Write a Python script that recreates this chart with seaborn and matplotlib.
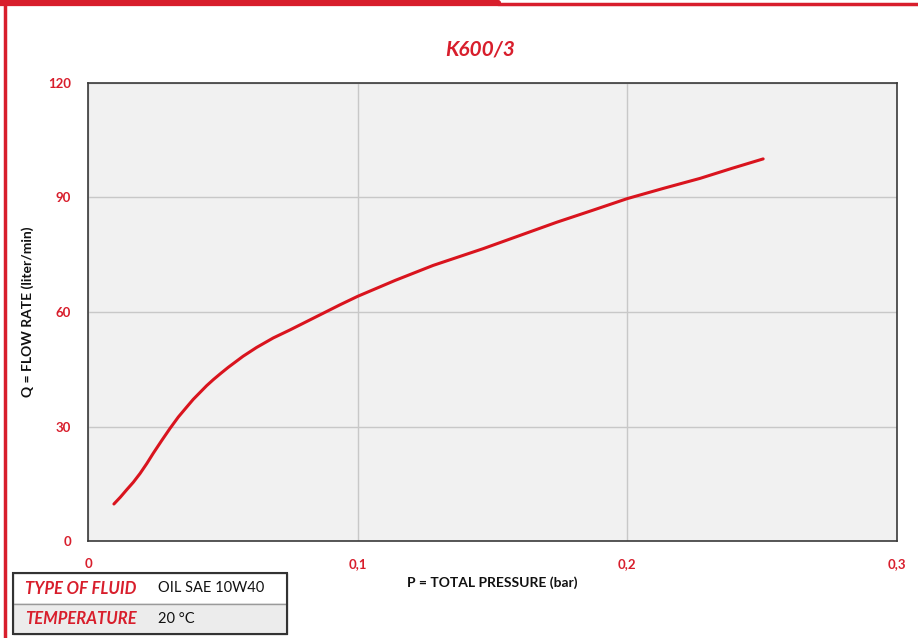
import matplotlib
matplotlib.use("Agg")
import matplotlib.pyplot as plt
import seaborn as sns
import pandas as pd
from matplotlib.patches import Rectangle
from matplotlib.lines import Line2D
from matplotlib.ticker import MultipleLocator, FixedLocator

# values
pressure = [0.0096, 0.0120, 0.0143, 0.0168, 0.0193, 0.0218, 0.0242, 0.0273,
            0.0304, 0.0335, 0.0366, 0.0390, 0.0415, 0.0440, 0.0465, 0.0492,
            0.0520, 0.0575, 0.0625, 0.0687, 0.0749, 0.0811, 0.0873, 0.0935,
            0.1, 0.1140, 0.128, 0.1466, 0.160, 0.1738, 0.187, 0.2, 0.2135,
            0.227, 0.2387, 0.2504]
flow = [9.7, 11.5, 13.4, 15.4, 17.7, 20.3, 23.0, 26.3,
        29.5, 32.5, 35.1, 37.1, 38.9, 40.7, 42.3, 43.9,
        45.5, 48.4, 50.7, 53.2, 55.3, 57.5, 59.7, 61.9,
        64.1, 68.3, 72.2, 76.6, 80.0, 83.5, 86.6, 89.7, 92.4,
        95.0, 97.6, 100.1]
x_ticks = [0, 0.1, 0.2, 0.3]
x_tick_labels = ["0", "0,1", "0,2", "0,3"]
y_ticks = [0, 30, 60, 90, 120]
table_rows = [("TYPE OF FLUID", "OIL SAE 10W40"), ("TEMPERATURE", "20 °C")]

RED = "#d81e2c"
LINE_RED = "#d9141e"

sns.set_style("whitegrid", {"axes.facecolor": "#f1f1f1", "grid.color": "#c8c8c8",
                            "axes.edgecolor": "#333333"})
plt.rcParams["font.family"] = ["Lato", "DejaVu Sans"]

df = pd.DataFrame({"P": pressure, "Q": flow})

fig = plt.figure(figsize=(9.18, 6.38), dpi=100)
ax = fig.add_axes([0.0959, 0.152, 0.977 - 0.0959, 0.870 - 0.152])

sns.lineplot(data=df, x="P", y="Q", ax=ax, color=LINE_RED, linewidth=2.2)
ax.lines[0].set_solid_joinstyle("round")

ax.set_xlim(0, 0.3)
ax.set_ylim(0, 120)
ax.xaxis.set_major_locator(FixedLocator(x_ticks))
ax.set_xticklabels(x_tick_labels)
ax.yaxis.set_major_locator(FixedLocator(y_ticks))
ax.xaxis.set_minor_locator(MultipleLocator(0.05))
ax.yaxis.set_minor_locator(MultipleLocator(15))
ax.grid(True, which="major", linewidth=1.0)
ax.grid(False, which="minor")

for side in ["left", "bottom", "top", "right"]:
    ax.spines[side].set_visible(True)
    ax.spines[side].set_linewidth(1.2)
    ax.spines[side].set_color("#3a3a3a")

ax.tick_params(axis="both", which="major", direction="inout", length=8, width=1,
               color="#3a3a3a", labelcolor=RED, labelsize=9.5)
ax.tick_params(axis="both", which="minor", direction="in", length=4, width=1,
               color="#3a3a3a")
ax.tick_params(axis="x", which="major", pad=8)
ax.tick_params(axis="y", which="major", pad=8)
for lab in ax.get_xticklabels() + ax.get_yticklabels():
    lab.set_fontweight("bold")

ax.set_xlabel("P = TOTAL PRESSURE (bar)", fontsize=10, color="#111111", labelpad=5,
              fontweight="bold")
ax.set_ylabel("Q = FLOW RATE (liter/min)", fontsize=10, color="#111111", labelpad=10,
              fontweight="bold")

fig.text(0.523, 0.922, "K600/3", ha="center", va="center", fontsize=15,
         fontweight="bold", fontstyle="italic", color=RED)

# red frame of the page
fig.add_artist(Line2D([0.0, 0.542], [0.995, 0.995], transform=fig.transFigure,
                      color=RED, linewidth=4.5))
fig.add_artist(Line2D([0.542, 1.0], [0.993, 0.993], transform=fig.transFigure,
                      color=RED, linewidth=2.5))
fig.add_artist(Line2D([0.005, 0.005], [0.0, 1.0], transform=fig.transFigure,
                      color=RED, linewidth=2.5))

# fluid info table
W, H = 918.0, 638.0
x0, x1 = 13, 287
row_tops = [573, 604]
row_h = [31, 30]
fills = ["white", "#ececec"]
for (label, value), top, h, fc in zip(table_rows, row_tops, row_h, fills):
    fig.add_artist(Rectangle((x0 / W, 1 - (top + h) / H), (x1 - x0) / W, h / H,
                             transform=fig.transFigure, facecolor=fc,
                             edgecolor="#9a9a9a", linewidth=1.0))
    yc = 1 - (top + h / 2) / H
    fig.text(25 / W, yc, label, ha="left", va="center", fontsize=12,
             fontweight="bold", fontstyle="italic", color=RED)
    fig.text(158 / W, yc, value, ha="left", va="center", fontsize=10.5,
             color="#111111")
fig.add_artist(Rectangle((x0 / W, 1 - 634 / H), (x1 - x0) / W, (634 - 573) / H,
                         transform=fig.transFigure, facecolor="none",
                         edgecolor="#333333", linewidth=1.5))

fig.savefig("out.png", dpi=100)
